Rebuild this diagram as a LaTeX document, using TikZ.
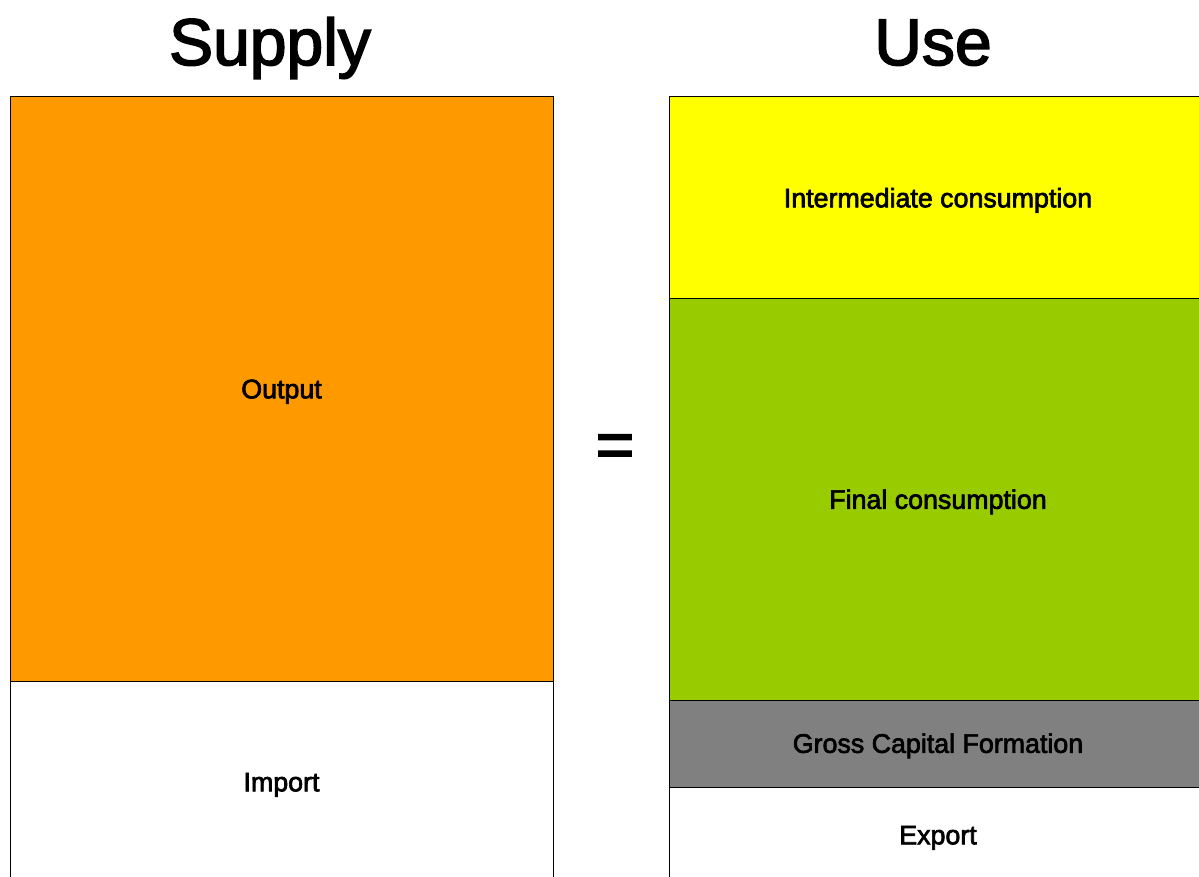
\documentclass[tikz,border=0pt]{standalone}
\usepackage{fontspec}
\setmainfont{Liberation Sans}
\newfontfamily\heavyfont{Liberation Sans}[FakeBold=2.5]
\usetikzlibrary{positioning}

\definecolor{output_orange}{HTML}{FF9900}
\definecolor{inter_yellow}{HTML}{FFFF00}
\definecolor{final_green}{HTML}{99CC00}
\definecolor{gcf_gray}{HTML}{808080}

\begin{document}
\begin{tikzpicture}
    [
        x=1pt, y=-1pt,
        block/.style={rectangle, draw=black, line width=1pt, inner sep=0pt, outer sep=0pt, text height=18.6pt, text depth=0pt, font=\heavyfont\fontsize{26.8}{30}\selectfont},
        left_block/.style={block, minimum width=543pt},
        right_block/.style={block, minimum width=538pt},
        title/.style={anchor=base, font=\heavyfont\fontsize{66}{70}\selectfont},
    ]
        \useasboundingbox (0,0) rectangle (1199,877);
        \clip (0,0) rectangle (1199,877);
        % supply side
        \node[left_block, fill=output_orange, minimum height=584pt, anchor=north west] (output) at (10,97) {Output} ;
        \node[left_block, fill=white, minimum height=202pt] (import) [below = 0pt of output] {Import} ;
        % use side
        \node[right_block, fill=inter_yellow, minimum height=202pt, anchor=north west] (inter) at (669,97) {Intermediate consumption} ;
        \node[right_block, fill=final_green, minimum height=401pt] (final) [below = 0pt of inter] {Final consumption} ;
        \node[right_block, fill=gcf_gray, minimum height=87pt] (gcf) [below = 0pt of final] {Gross Capital Formation} ;
        \node[right_block, fill=white, minimum height=96pt] (export) [below = 0pt of gcf] {Export} ;
        % titles
        \node[title] (supply) at (270,65) {Supply} ;
        \node[title] (use) at (933,65) {Use} ;
        \node[font=\heavyfont\fontsize{66}{70}\selectfont, inner sep=0pt] (equals) at (615,451) {=} ;
    \end{tikzpicture}
\end{document}
